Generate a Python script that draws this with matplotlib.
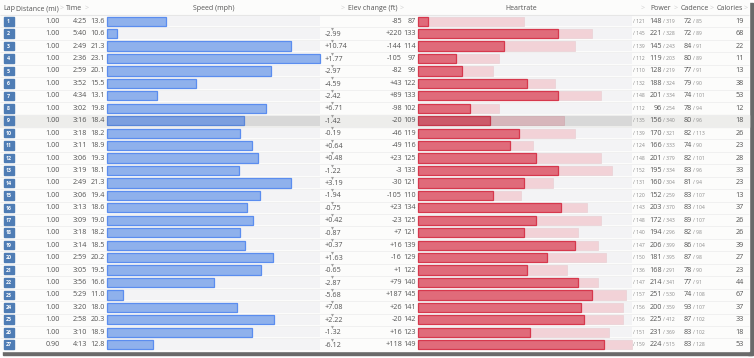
import numpy as np
import matplotlib

matplotlib.use("Agg")
import matplotlib.pyplot as plt
from matplotlib.patches import Rectangle

# ---- data --------------------------------------------------------------------
lap = list(range(1, 28))
distance = [1.00, 1.00, 1.00, 1.00, 1.00, 1.00, 1.00, 1.00, 1.00, 1.00, 1.00,
            1.00, 1.00, 1.00, 1.00, 1.00, 1.00, 1.00, 1.00, 1.00, 1.00, 1.00,
            1.00, 1.00, 1.00, 1.00, 0.90]
lap_time = ["4:25", "5:40", "2:49", "2:36", "2:59", "3:52", "4:34", "3:02",
            "3:16", "3:18", "3:11", "3:06", "3:19", "2:49", "3:06", "3:13",
            "3:09", "3:18", "3:14", "2:59", "3:05", "3:56", "5:29", "3:20",
            "2:58", "3:10", "4:13"]
speed = [13.6, 10.6, 21.3, 23.1, 20.1, 15.5, 13.1, 19.8, 18.4, 18.2, 18.9,
         19.3, 18.1, 21.3, 19.4, 18.6, 19.0, 18.2, 18.5, 20.2, 19.5, 16.6,
         11.0, 18.0, 20.3, 18.9, 12.8]
grade = [None, "-2.99", "+10.74", "+1.77", "-2.97", "-4.59", "-2.42", "+6.71",
         "-1.42", "-0.19", "+0.64", "+0.48", "-1.22", "+3.19", "-1.94", "-0.75",
         "+0.42", "-0.87", "+0.37", "+1.63", "-0.65", "-2.87", "-5.68", "+7.08",
         "+2.22", "-1.32", "-6.12"]
elev = [-85, 220, -144, -105, -82, 43, 89, -98, -20, -46, -49, 23, -3, -30,
        -105, 23, -23, 7, 16, -16, 1, 79, 187, 26, -20, 16, 118]
hr_avg = [87, 133, 114, 97, 99, 122, 133, 102, 109, 119, 116, 125, 133, 121,
          110, 134, 125, 121, 139, 129, 122, 140, 145, 141, 142, 123, 149]
hr_max = [121, 145, 139, 112, 110, 132, 148, 112, 135, 139, 124, 148, 152, 131,
          120, 143, 148, 140, 147, 150, 136, 147, 157, 156, 156, 151, 159]
pow_avg = [148, 221, 145, 119, 128, 188, 201, 96, 156, 170, 166, 201, 195, 160,
           152, 203, 172, 194, 206, 181, 168, 214, 251, 200, 225, 231, 224]
pow_max = [319, 328, 243, 203, 219, 324, 334, 254, 340, 321, 333, 379, 334, 304,
           259, 370, 343, 296, 399, 395, 291, 341, 530, 359, 412, 369, 515]
cad_avg = [72, 72, 84, 80, 77, 79, 74, 78, 80, 82, 74, 82, 83, 81, 83, 83, 89,
           82, 86, 87, 78, 77, 74, 93, 87, 83, 83]
cad_max = [85, 89, 91, 89, 91, 90, 101, 94, 96, 113, 90, 101, 96, 94, 107, 104,
           107, 98, 104, 98, 90, 91, 108, 107, 102, 102, 128]
calories = [19, 68, 22, 11, 13, 38, 53, 12, 18, 26, 23, 28, 33, 23, 13, 37, 26,
            26, 39, 27, 23, 44, 67, 37, 33, 18, 53]
SELECTED = 9  # highlighted lap

# ---- style -------------------------------------------------------------------
plt.rcParams["font.family"] = ["Open Sans", "DejaVu Sans"]
TXT = "#555555"
SOFT = "#8a8a8a"
CHEV = "#cfcfcf"
TRACK = "#f3f3f5"
TRACK_SEL = "#d8d8d8"
ROWBG_SEL = "#ededeb"
BLUE_F, BLUE_E = "#8fb1ec", "#5b8def"
RED_F, RED_E = "#e06b7a", "#d6384d"
PINK = "#f2d2d7"
BADGE = "#4f7db5"
FS = 5.2
FS_HDR = 5.0
FS_SMALL = 3.6

W, H = 754, 358
TOP, PITCH = 15.0, 12.44
N = len(lap)
BOT = TOP + N * PITCH
SPD_LO, SPD_HI = 10.0, 23.1
HR_LO, HR_HI = 83.5, 159.0

fig = plt.figure(figsize=(W / 100, H / 100), dpi=100)
fig.patch.set_facecolor("white")
ax = fig.add_axes([0, 0, 1, 1])
ax.set_xlim(0, W)
ax.set_ylim(H, 0)
ax.axis("off")


def yc(i):
    return TOP + (i + 0.5) * PITCH


# table background and shadow
ax.add_patch(Rectangle((3, BOT), 749, 4.5, color="#6a6a6a", zorder=0))
ax.add_patch(Rectangle((748, 3), 4.5, BOT + 1, color="#6a6a6a", zorder=0))
ax.add_patch(Rectangle((0, 0), 749, BOT, color="#fcfcfb", zorder=1))
ax.hlines(TOP, 0, 749, color="#e6e6e6", lw=0.8, zorder=2)
sel = SELECTED - 1
ax.add_patch(Rectangle((0, TOP + sel * PITCH), 749, PITCH, color=ROWBG_SEL,
                       zorder=1.5))
ax.hlines([TOP + k * PITCH for k in range(1, N)], 0, 749, color="#eeeeee",
          lw=0.6, zorder=2)

# header
hy = 8.5
hdr = [("Lap", 3.5, "left"), ("Distance (mi)", 15.5, "left"), (">", 59.5, "left"),
       ("Time", 66, "left"), (">", 85, "left"), ("Speed (mph)", 214, "center"),
       (">", 341, "left"), ("Elev change (ft)", 348, "left"), (">", 399.5, "left"),
       ("Heartrate", 521, "center"), (">", 641, "left"), ("Power", 650, "left"),
       (">", 674, "left"), ("Cadence", 681, "left"), (">", 710, "left"),
       ("Calories", 717, "left"), (">", 744, "left")]
for s, x, ha in hdr:
    ax.text(x, hy, s, ha=ha, va="center", fontsize=FS_HDR,
            color=CHEV if s == ">" else TXT, zorder=5)

# text columns
for i in range(N):
    y = yc(i)
    ax.add_patch(Rectangle((3.5, y - 4.3), 10, 8.6, color=BADGE, zorder=3))
    ax.text(8.5, y + 0.2, str(lap[i]), ha="center", va="center", fontsize=3.8,
            color="white", fontweight="bold", zorder=4)
    ax.text(60, y, f"{distance[i]:.2f}", ha="right", va="center", fontsize=FS,
            color=TXT, zorder=4)
    ax.text(87, y, lap_time[i], ha="right", va="center", fontsize=FS,
            color=TXT, zorder=4)
    ax.text(105, y, f"{speed[i]:.1f}", ha="right", va="center", fontsize=FS,
            color=TXT, zorder=4)
    if grade[i] is not None:
        ax.text(332, y - 5.4, "\u25be", ha="center", va="center", fontsize=4.2,
                color="#a0a0a0", family="DejaVu Sans", zorder=4)
        ax.text(325, y + 0.6, grade[i], ha="left", va="center", fontsize=FS,
                color=TXT, zorder=4)
    ax.text(402, y, f"{elev[i]:+d}", ha="right", va="center", fontsize=FS,
            color=TXT, zorder=4)
    ax.text(416, y, str(hr_avg[i]), ha="right", va="center", fontsize=FS,
            color=TXT, zorder=4)
    ax.text(633, y, f"/ {hr_max[i]}", ha="left", va="center", fontsize=FS_SMALL,
            color=SOFT, zorder=4)
    ax.text(662, y, str(pow_avg[i]), ha="right", va="center", fontsize=FS,
            color=TXT, zorder=4)
    ax.text(663, y, f"/ {pow_max[i]}", ha="left", va="center",
            fontsize=FS_SMALL, color=SOFT, zorder=4)
    ax.text(692, y, str(cad_avg[i]), ha="right", va="center", fontsize=FS,
            color=TXT, zorder=4)
    ax.text(693, y, f"/ {cad_max[i]}", ha="left", va="center",
            fontsize=FS_SMALL, color=SOFT, zorder=4)
    ax.text(744, y, str(calories[i]), ha="right", va="center", fontsize=FS,
            color=TXT, zorder=4)


def bar_axes(x0, x1, lo, hi):
    a = fig.add_axes([x0 / W, (H - BOT) / H, (x1 - x0) / W, (BOT - TOP) / H])
    a.set_xlim(lo, hi)
    a.set_ylim(N - 0.5, -0.5)
    a.axis("off")
    a.patch.set_alpha(0)
    return a


rows = np.arange(N)
is_sel = np.array(lap) == SELECTED

# speed column
axs = bar_axes(107, 320, SPD_LO, SPD_HI)
axs.barh(rows, SPD_HI - SPD_LO, left=SPD_LO, height=0.84,
         color=np.where(is_sel, TRACK_SEL, TRACK), lw=0)
axs.barh(rows, np.array(speed) - SPD_LO, left=SPD_LO, height=0.74,
         color=np.where(is_sel, "#7c9fdf", BLUE_F),
         edgecolor=np.where(is_sel, "#5a86d8", BLUE_E), lw=0.9, clip_on=False)

# heartrate column
axh = bar_axes(418, 632, HR_LO, HR_HI)
axh.barh(rows, HR_HI - HR_LO, left=HR_LO, height=0.84,
         color=np.where(is_sel, TRACK_SEL, TRACK), lw=0)
axh.barh(rows, np.array(hr_max) - HR_LO, left=HR_LO, height=0.74,
         color=np.where(is_sel, "#d7b6bb", PINK),
         edgecolor=np.where(is_sel, "#cfaab0", "#ead0d4"), lw=0.5,
         clip_on=False)
axh.barh(rows, np.array(hr_avg) - HR_LO, left=HR_LO, height=0.74,
         color=np.where(is_sel, "#cc5a6a", RED_F),
         edgecolor=np.where(is_sel, "#c4394c", RED_E), lw=0.9, clip_on=False)

fig.savefig("out.png", dpi=100, facecolor="white")
